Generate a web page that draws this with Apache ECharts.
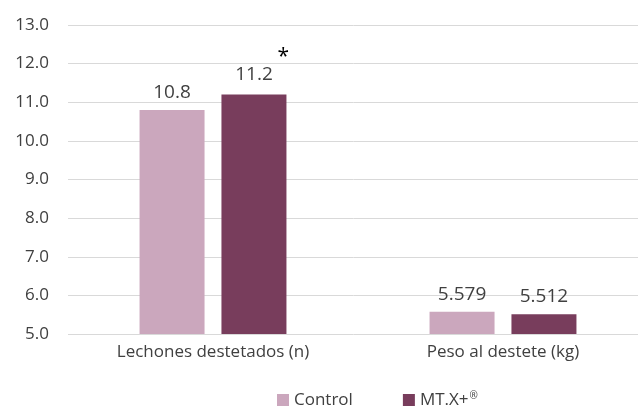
<!DOCTYPE html>
<html>
<head>
<meta charset="utf-8">
<script src="https://cdn.jsdelivr.net/npm/echarts@6.0.0/dist/echarts.min.js"></script>
<style>
  html, body { margin: 0; padding: 0; background: #fff; }
  #chart { width: 638px; height: 407px; }
</style>
</head>
<body>
<div id="chart"></div>
<script>
  const categories = ['Lechones destetados (n)', 'Peso al destete (kg)']
  const controlValues = [10.8, 5.579]
  const mtxValues = [11.2, 5.512]
  const controlLabels = ['10.8', '5.579']
  const mtxLabels = ['11.2', '5.512']
  const seriesNames = ['Control', 'MT.X+®']

  const textColor = '#404040'
  const fontFamily = '"Open Sans", "Liberation Sans", sans-serif'

  const chart = echarts.init(document.getElementById('chart'))

  // 圖表配置
  const option = {
    backgroundColor: '#ffffff',
    textStyle: { fontFamily: fontFamily },
    animation: false,
    // 繪圖區延伸到畫面右緣之外
    grid: { left: 68, width: 580, top: 25, bottom: 73, outerBoundsMode: 'none', containLabel: false },
    legend: {
      data: seriesNames,
      top: 386,
      left: 272,
      icon: 'rect',
      itemWidth: 12,
      itemHeight: 12,
      itemGap: 50,
      textStyle: {
        color: textColor,
        fontSize: 17,
        fontFamily: fontFamily,
        rich: {
          sup: { fontSize: 10, verticalAlign: 'top', padding: [0, 0, 8, 1], color: textColor }
        }
      },
      formatter: name => name.replace('®', '{sup|®}')
    },
    xAxis: {
      type: 'category',
      data: categories,
      axisLine: { show: false },
      axisTick: { show: false },
      axisLabel: { color: textColor, fontSize: 17, margin: 10, fontFamily: fontFamily }
    },
    yAxis: {
      type: 'value',
      min: 5,
      max: 13,
      interval: 1,
      axisLine: { show: false },
      axisTick: { show: false },
      axisLabel: {
        color: textColor,
        fontSize: 17,
        margin: 19,
        fontFamily: fontFamily,
        formatter: v => v.toFixed(1)
      },
      splitLine: { lineStyle: { color: '#d9d9d9', width: 1 } }
    },
    series: [
      {
        name: seriesNames[0],
        type: 'bar',
        barWidth: 65,
        barGap: '26%',
        itemStyle: { color: '#cba7bd' },
        label: {
          show: true,
          position: 'top',
          distance: 8,
          color: textColor,
          fontSize: 19,
          fontFamily: fontFamily,
          formatter: p => controlLabels[p.dataIndex]
        },
        data: controlValues
      },
      {
        name: seriesNames[1],
        type: 'bar',
        barWidth: 65,
        barGap: '26%',
        itemStyle: { color: '#783d5c' },
        label: {
          show: true,
          position: 'top',
          distance: 8,
          color: textColor,
          fontSize: 19,
          fontFamily: fontFamily,
          formatter: p => mtxLabels[p.dataIndex]
        },
        data: [
          {
            value: mtxValues[0],
            label: {
              formatter: '{star|*}\n{val|' + mtxLabels[0] + '}',
              rich: {
                star: { width: 70, align: 'right', fontSize: 21, color: '#000', lineHeight: 12, fontFamily: fontFamily },
                val: { width: 70, align: 'center', fontSize: 19, color: textColor, lineHeight: 24, fontFamily: fontFamily }
              }
            }
          },
          mtxValues[1]
        ]
      }
    ]
  }

  chart.setOption(option)
</script>
</body>
</html>
